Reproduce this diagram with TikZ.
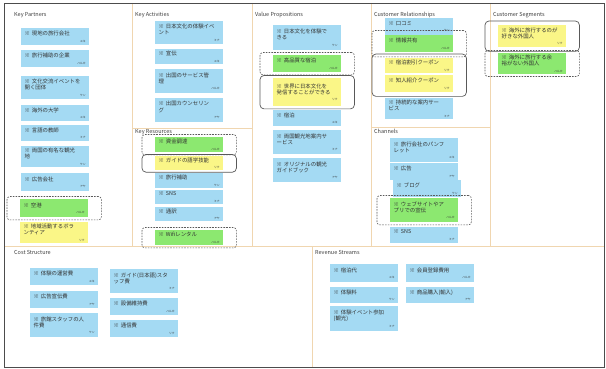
\documentclass[tikz,border=0pt]{standalone}
\usepackage{fontspec}
\setmainfont{Noto Sans CJK JP}
\usetikzlibrary{fit}
\definecolor{nblue}{RGB}{164,218,243}
\definecolor{ngreen}{RGB}{140,232,112}
\definecolor{nyellow}{RGB}{250,246,135}
\definecolor{gridc}{RGB}{240,214,176}
\newcommand\tagf{\fontsize{2.8}{3}\selectfont}

\begin{document}
\begin{tikzpicture}[x=1pt, y=-1pt,
  note/.style={draw=none, fill=nblue, anchor=north west, text=black!80, text width=61pt, align=left,
    inner xsep=3.5pt, inner ysep=1.6pt, font=\fontsize{5.4}{6.4}\selectfont},
  title/.style={anchor=west, text=black!75, inner sep=0pt, font=\fontsize{5.5}{6}\selectfont},
  gridline/.style={draw=gridc, line width=0.7pt},
  hldash/.style={draw=black!65, line width=0.6pt, dash pattern=on 1.6pt off 1.2pt, rounded corners=3pt, inner xsep=13pt, inner ysep=2.5pt},
  hlsolid/.style={draw=black!65, line width=0.7pt, rounded corners=4pt, inner xsep=13pt, inner ysep=2.5pt}]
\useasboundingbox[fill=white] (0,0) rectangle (606,369);
% canvas
\draw[gridline] (132,3) -- (132,246);
\draw[gridline] (252,3) -- (252,246);
\draw[gridline] (371,3) -- (371,246);
\draw[gridline] (490,3) -- (490,246);
\draw[gridline] (132,128) -- (252,128);
\draw[gridline] (371,127) -- (490,127);
\draw[gridline] (4,246) -- (604,246);
\draw[gridline] (312,246) -- (312,367);
\draw[black!70, line width=0.8pt] (4,3) rectangle (604,367);
\node[title] (tkp) at (14,15) {Key Partners};
\node[title] (tka) at (135,15) {Key Activities};
\node[title] (tkr) at (135,132) {Key Resources};
\node[title] (tvp) at (255,15) {Value Propositions};
\node[title] (tcr) at (374,15) {Customer Relationships};
\node[title] (tch) at (374,131) {Channels};
\node[title] (tcs) at (493,15) {Customer Segments};
\node[title] (tco) at (14,252) {Cost Structure};
\node[title] (trv) at (315,252) {Revenue Streams};
% Key Partners
\node[note, minimum height=17pt] (kp1) at (21,28) {※ 現地の旅行会社\\\hfill{\tagf ユキ}};
\node[note, minimum height=17pt] (kp2) at (21,50) {※ 旅行補助の企業\\\hfill{\tagf ハルカ}};
\node[note, minimum height=23pt] (kp3) at (21,76) {※ 文化交流イベントを\\開く団体\\\hfill{\tagf ケン}};
\node[note, minimum height=16pt] (kp4) at (21,105) {※ 海外の大学\\\hfill{\tagf ユキ}};
\node[note, minimum height=16pt] (kp5) at (21,125) {※ 言語の教師\\\hfill{\tagf ミナ}};
\node[note, minimum height=21pt] (kp6) at (21,146) {※ 両国の有名な観光\\地\\\hfill{\tagf ケン}};
\node[note, minimum height=18pt] (kp7) at (21,173) {※ 広告会社\\\hfill{\tagf アヤ}};
\node[note, fill=ngreen, minimum height=18pt] (kp8) at (20,199) {※ 空港\\\hfill{\tagf ハルカ}};
\node[note, fill=nyellow, minimum height=21pt] (kp9) at (20,222) {※ 地域活動するボラ\\ンティア\\\hfill{\tagf リク}};
% Key Activities
\node[note, minimum height=23pt] (ka1) at (155,21) {※ 日本文化の体験イベ\\ント\\\hfill{\tagf ミナ}};
\node[note, minimum height=15pt] (ka2) at (155,49) {※ 宣伝\\\hfill{\tagf ユキ}};
\node[note, minimum height=24pt] (ka3) at (155,69) {※ 出国のサービス管\\理\\\hfill{\tagf ハルカ}};
\node[note, minimum height=24pt] (ka4) at (155,98) {※ 出国カウンセリン\\グ\\\hfill{\tagf アヤ}};
% Key Resources
\node[note, fill=ngreen, minimum height=15pt] (kr1) at (155,137) {※ 資金調達\\\hfill{\tagf ハルカ}};
\node[note, fill=nyellow, minimum height=14pt] (kr2) at (155,156) {※ ガイドの語学技能\\\hfill{\tagf リク}};
\node[note, minimum height=15pt] (kr3) at (155,173) {※ 旅行補助\\\hfill{\tagf ケン}};
\node[note, minimum height=14pt] (kr4) at (155,190) {※ SNS\\\hfill{\tagf ミナ}};
\node[note, minimum height=14pt] (kr5) at (155,207) {※ 通訳\\\hfill{\tagf アヤ}};
\node[note, fill=ngreen, minimum height=15pt] (kr6) at (155,230) {※ Wifiレンタル\\\hfill{\tagf ハルカ}};
% Value Propositions
\node[note, minimum height=25pt] (vp1) at (273,25) {※ 日本文化を体験で\\きる\\\hfill{\tagf ケン}};
\node[note, fill=ngreen, minimum height=17pt] (vp2) at (273,55) {※ 高品質な宿泊\\\hfill{\tagf ハルカ}};
\node[note, fill=nyellow, minimum height=28pt] (vp3) at (273,78) {※ 世界に日本文化を\\発信することができる\\\hfill{\tagf リク}};
\node[note, minimum height=16pt] (vp4) at (273,110) {※ 宿泊\\\hfill{\tagf ユキ}};
\node[note, minimum height=24pt] (vp5) at (273,130) {※ 両国観光地案内サ\\ービス\\\hfill{\tagf ミナ}};
\node[note, minimum height=24pt] (vp6) at (273,158) {※ オリジナルの観光\\ガイドブック\\\hfill{\tagf アヤ}};
% Customer Relationships
\node[note, minimum height=17pt] (cr1) at (385,18) {※ 口コミ\\\hfill{\tagf ケン}};
\node[note, fill=ngreen, minimum height=17pt] (cr2) at (385,35) {※ 情報共有\\\hfill{\tagf ハルカ}};
\node[note, fill=nyellow, minimum height=15pt] (cr3) at (385,58) {※ 宿泊割引クーポン\\\hfill{\tagf リク}};
\node[note, fill=nyellow, minimum height=17pt] (cr4) at (385,75) {※ 知人紹介クーポン\\\hfill{\tagf リク}};
\node[note, minimum height=20pt] (cr5) at (385,98) {※ 持続的な案内サー\\ビス\\\hfill{\tagf ミナ}};
% Channels
\node[note, minimum height=24pt] (ch1) at (390,138) {※ 旅行会社のパンフ\\レット\\\hfill{\tagf ユキ}};
\node[note, minimum height=17pt] (ch2) at (390,163) {※ 広告\\\hfill{\tagf アヤ}};
\node[note, minimum height=17pt] (ch3) at (393,180) {※ ブログ\\\hfill{\tagf ケン}};
\node[note, fill=ngreen, minimum height=24pt] (ch4) at (390,198) {※ ウェブサイトやア\\プリでの宣伝\\\hfill{\tagf ハルカ}};
\node[note, minimum height=16pt] (ch5) at (390,227) {※ SNS\\\hfill{\tagf ミナ}};
% Customer Segments
\node[note, fill=nyellow, minimum height=22pt] (cs1) at (498,25) {※ 海外に旅行するのが\\好きな外国人\\\hfill{\tagf リク}};
\node[note, fill=ngreen, minimum height=19pt] (cs2) at (498,53) {※ 海外に旅行する余\\裕がない外国人\\\hfill{\tagf ハルカ}};
% Cost Structure
\node[note, minimum height=17pt] (co1) at (30,268) {※ 体験の運営費\\\hfill{\tagf ユキ}};
\node[note, minimum height=17pt] (co2) at (30,291) {※ 広告宣伝費\\\hfill{\tagf アヤ}};
\node[note, minimum height=24pt] (co3) at (30,313) {※ 旅館スタッフの人\\件費\\\hfill{\tagf ケン}};
\node[note, minimum height=24pt] (co4) at (110,269) {※ ガイド(日本語)スタ\\ッフ費\\\hfill{\tagf ミナ}};
\node[note, minimum height=17pt] (co5) at (110,298) {※ 設備維持費\\\hfill{\tagf ハルカ}};
\node[note, minimum height=17pt] (co6) at (110,320) {※ 通信費\\\hfill{\tagf リク}};
% Revenue Streams
\node[note, minimum height=18pt] (rv1) at (330,264) {※ 宿泊代\\\hfill{\tagf ユキ}};
\node[note, minimum height=16pt] (rv2) at (330,287) {※ 体験料\\\hfill{\tagf ケン}};
\node[note, minimum height=25pt] (rv3) at (330,306) {※ 体験イベント参加\\(観光)\\\hfill{\tagf ミナ}};
\node[note, minimum height=18pt] (rv4) at (406,264) {※ 会員登録費用\\\hfill{\tagf ハルカ}};
\node[note, minimum height=16pt] (rv5) at (406,287) {※ 商品購入(輸入)\\\hfill{\tagf アヤ}};
% highlights
\node[hldash, fit=(kp8)] (hkp8) {};
\node[hldash, fit=(kr1)] (hkr1) {};
\node[hlsolid, fit=(kr2), inner ysep=1.5pt] (hkr2) {};
\node[hldash, fit=(kr6)] (hkr6) {};
\node[hldash, fit=(vp2)] (hvp2) {};
\node[hlsolid, fit=(vp3)] (hvp3) {};
\node[hldash, fit=(cr2), inner ysep=4.5pt] (hcr2) {};
\node[hlsolid, fit=(cr3)(cr4), inner ysep=4pt] (hcr34) {};
\node[hldash, fit=(ch4)] (hch4) {};
\node[hlsolid, fit=(cs1), inner ysep=4pt] (hcs1) {};
\node[hldash, fit=(cs2)] (hcs2) {};
\end{tikzpicture}
\end{document}
